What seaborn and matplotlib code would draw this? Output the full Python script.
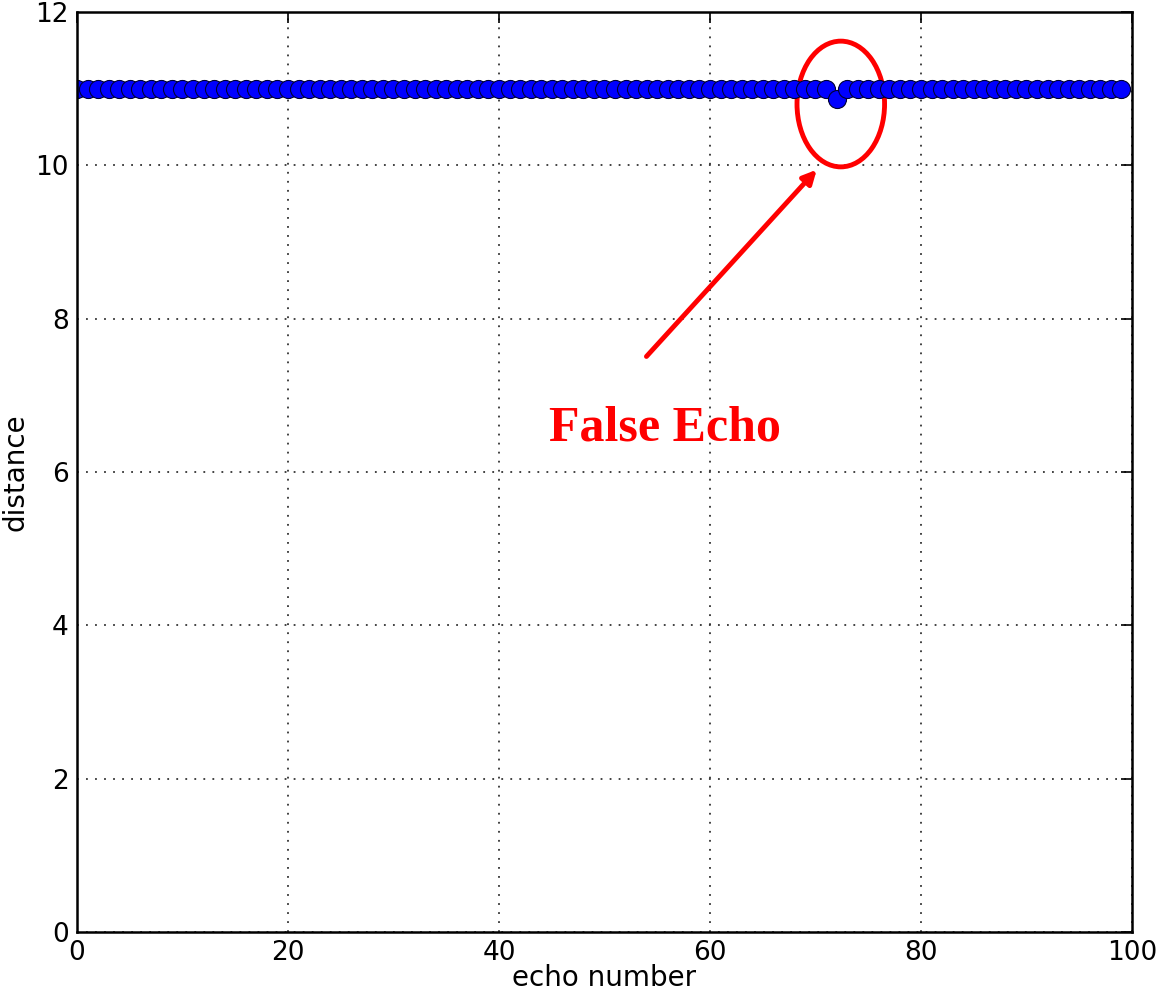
import matplotlib
matplotlib.use("Agg")
import matplotlib.pyplot as plt
from matplotlib.patches import Ellipse
import numpy as np
import pandas as pd
import seaborn as sns

# echo readings: constant 11 except one false echo at index 72
echo_number = list(range(100))
distance = [11.0] * 100
distance[72] = 10.87

x_ticks = [0, 20, 40, 60, 80, 100]
y_ticks = [0, 2, 4, 6, 8, 10, 12]

df = pd.DataFrame({"echo number": echo_number, "distance": distance})

sns.set_style("white")
plt.rcParams["font.family"] = ["DejaVu Sans"]
plt.rcParams["text.color"] = "black"
plt.rcParams["axes.labelcolor"] = "black"
plt.rcParams["xtick.color"] = "black"
plt.rcParams["ytick.color"] = "black"

fig = plt.figure(figsize=(11.56, 10), dpi=100)
ax = fig.add_axes([0.0666, 0.068, 0.9126, 0.92])

sns.lineplot(data=df, x="echo number", y="distance", ax=ax, color="blue",
             marker="o", markersize=13, markeredgecolor="#000033",
             markeredgewidth=0.8, linewidth=1.5)

ax.set_xlim(0, 100)
ax.set_ylim(0, 12)
ax.set_xticks(x_ticks)
ax.set_yticks(y_ticks)
ax.grid(True, color="#333333", linestyle=(0, (1, 4)), linewidth=1.3)
ax.tick_params(direction="in", length=8, width=1.2, labelsize=19,
               top=True, right=True, pad=6)
for s in ax.spines.values():
    s.set_linewidth(1.8)
    s.set_color("black")
ax.set_xlabel("echo number", fontsize=20, labelpad=-2)
ax.set_ylabel("distance", fontsize=20, labelpad=4)

# annotation
ax.add_patch(Ellipse((72.4, 10.8), 8.3, 1.64, fill=False, edgecolor="red", linewidth=3.5))
ax.annotate("", xy=(70.3, 9.97), xytext=(53.8, 7.48),
            arrowprops=dict(arrowstyle="-|>", color="red", lw=3.5,
                            mutation_scale=20))
ax.text(55.7, 6.57, "False Echo", color="red", fontsize=36, fontweight="bold",
        family=["Liberation Serif"], ha="center", va="center")

fig.savefig("out.png", dpi=100)
